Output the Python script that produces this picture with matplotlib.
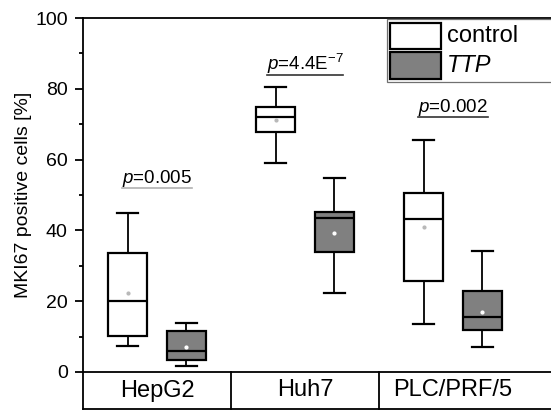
import matplotlib
matplotlib.use("Agg")
import matplotlib.pyplot as plt
from matplotlib.patches import Rectangle
from matplotlib.ticker import MultipleLocator

plt.rcParams['font.family'] = ['Liberation Sans', 'DejaVu Sans']
plt.rcParams['mathtext.fontset'] = 'custom'
plt.rcParams['mathtext.rm'] = 'Liberation Sans'
plt.rcParams['mathtext.it'] = 'Liberation Sans:italic'

# ---- data ----
groups = ['HepG2', 'Huh7', 'PLC/PRF/5']
series = ['control', 'TTP']

control_whislo = [7.3, 59.0, 13.6]
control_q1 = [10.2, 67.9, 25.7]
control_med = [20.0, 72.0, 43.2]
control_q3 = [33.7, 74.9, 50.5]
control_whishi = [45.0, 80.5, 65.5]
control_mean = [22.2, 71.2, 41.0]

ttp_whislo = [1.7, 22.2, 7.2]
ttp_q1 = [3.3, 33.9, 11.9]
ttp_med = [5.8, 43.6, 15.6]
ttp_q3 = [11.6, 45.2, 23.0]
ttp_whishi = [13.9, 54.7, 34.3]
ttp_mean = [7.0, 39.4, 17.0]

p_labels = [r'$\it{p}$=0.005', r'$\it{p}$=4.4E$^{\mathregular{-7}}$', r'$\it{p}$=0.002']
p_baseline = [53.4, 85.2, 73.4]
p_line_color = ['#b0b0b0', '#333333', '#333333']

yticks = [0, 20, 40, 60, 80, 100]

# ---- styles ----
W, H = 551, 412
fig = plt.figure(figsize=(W / 100, H / 100), dpi=100)
ax_l, ax_r, ax_t, ax_b = 83, 551, 18, 372
ax = fig.add_axes([ax_l / W, (H - ax_b) / H, (ax_r - ax_l) / W, (ax_b - ax_t) / H])

group_w_px = 148.0
xmin = -0.5
xmax = xmin + (ax_r - ax_l) / group_w_px
offset = 0.198
box_w = 0.263
cap_w = 0.145
fill_colors = ['white', '#808080']
mean_colors = ['#b8b8b8', 'white']


def make_stats(lo, q1, med, q3, hi, mean):
    return [dict(whislo=a, q1=b, med=c, q3=d, whishi=e, mean=f, fliers=[])
            for a, b, c, d, e, f in zip(lo, q1, med, q3, hi, mean)]


all_stats = [
    make_stats(control_whislo, control_q1, control_med, control_q3, control_whishi, control_mean),
    make_stats(ttp_whislo, ttp_q1, ttp_med, ttp_q3, ttp_whishi, ttp_mean),
]

for k, stats in enumerate(all_stats):
    pos = [i + (-offset if k == 0 else offset) for i in range(len(groups))]
    ax.bxp(stats, positions=pos, widths=box_w, capwidths=cap_w, patch_artist=True,
           showmeans=True, showfliers=False, manage_ticks=False,
           boxprops=dict(facecolor=fill_colors[k], edgecolor='black', linewidth=1.6),
           medianprops=dict(color='black', linewidth=1.6),
           whiskerprops=dict(color='black', linewidth=1.3),
           capprops=dict(color='black', linewidth=1.6),
           meanprops=dict(marker='o', markersize=2, markerfacecolor=mean_colors[k],
                          markeredgecolor=mean_colors[k]))

ax.set_xlim(xmin, xmax)
ax.set_ylim(0, 100)
ax.set_yticks(yticks)
ax.yaxis.set_minor_locator(MultipleLocator(10))
ax.set_xticks([])
ax.tick_params(axis='y', which='major', direction='out', length=6, width=1.3,
               labelsize=14, pad=5)
ax.tick_params(axis='y', which='minor', direction='out', length=3, width=1.3)
ax.spines['right'].set_visible(False)
for s in ['left', 'top', 'bottom']:
    ax.spines[s].set_linewidth(1.3)
ax.set_ylabel('MKI67 positive cells [%]', fontsize=14)
ax.yaxis.set_label_coords(-0.108, 0.5)

# ---- category table below the axis ----
row_bottom = (ax_b - 409) / (ax_b - ax_t)
trans = ax.get_xaxis_transform()
ax.plot([0, 0], [0, row_bottom], transform=ax.transAxes, color='black', lw=1.3, clip_on=False)
ax.plot([0, 1], [row_bottom, row_bottom], transform=ax.transAxes, color='black', lw=1.3, clip_on=False)
for i in range(1, len(groups)):
    ax.plot([i - 0.5, i - 0.5], [0, row_bottom], transform=trans, color='black', lw=1.3, clip_on=False)
for i, g in enumerate(groups):
    ax.text(i, row_bottom / 2, g, transform=trans, ha='center', va='center', fontsize=17)

# ---- p values with underline ----
fig.canvas.draw()
renderer = fig.canvas.get_renderer()
for i, (lab, yb, lc) in enumerate(zip(p_labels, p_baseline, p_line_color)):
    t = ax.text(i, yb, lab, ha='center', va='baseline', fontsize=13.5)
    bb = t.get_window_extent(renderer).transformed(ax.transData.inverted())
    ax.plot([bb.x0, bb.x1], [yb - 1.3, yb - 1.3], color=lc, lw=1.2)

# ---- legend (drawn as frame + patches) ----
def ax_xy(px, py):
    return (px - ax_l) / (ax_r - ax_l), (ax_b - py) / (ax_b - ax_t)

x0, y0 = ax_xy(387, 82)
x1, y1 = ax_xy(560, 19)
ax.add_patch(Rectangle((x0, y0), x1 - x0, y1 - y0, transform=ax.transAxes,
                       facecolor='white', edgecolor='#707070', lw=0.9, clip_on=False, zorder=5))
rows = [(22.7, 49.0), (52.0, 79.0)]
for k, (ta, tb) in enumerate(rows):
    px0, py0 = ax_xy(390, tb)
    px1, py1 = ax_xy(441, ta)
    ax.add_patch(Rectangle((px0, py0), px1 - px0, py1 - py0, transform=ax.transAxes,
                           facecolor=fill_colors[k], edgecolor='black', lw=1.6,
                           clip_on=False, zorder=6))
    tx, ty = ax_xy(447, (ta + tb) / 2)
    ax.text(tx, ty, series[k], transform=ax.transAxes, ha='left', va='center',
            fontsize=17, style='italic' if k == 1 else 'normal', zorder=7)

fig.savefig('out.png', dpi=100)
